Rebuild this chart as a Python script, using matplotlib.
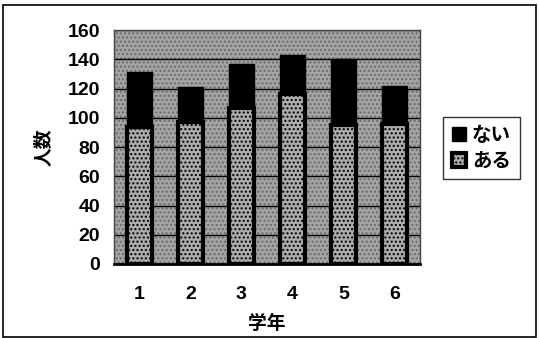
import matplotlib
matplotlib.use("Agg")
import matplotlib.pyplot as plt
from matplotlib.patches import Rectangle

grades = ["1", "2", "3", "4", "5", "6"]
aru = [94, 97, 107, 116, 95, 96]      # ある
nai = [37, 24, 30, 27, 45, 26]        # ない
y_ticks = [0, 20, 40, 60, 80, 100, 120, 140, 160]

num_font = ["Liberation Sans", "DejaVu Sans"]
jp_font = ["Noto Sans CJK JP", "DejaVu Sans"]

fig = plt.figure(figsize=(5.39, 3.38), dpi=100)
fig.patch.set_facecolor("white")
ax = fig.add_axes([0.2115, 0.219, 0.5675, 0.692])
ax.set_facecolor("#a4a4a4")
ax.patch.set_hatch("....")
ax.patch.set_edgecolor("#6a6a6a")

x = list(range(len(grades)))
ax.bar(x, aru, width=0.49, color="#acacac", edgecolor="black", linewidth=3,
       hatch="....", label="ある", zorder=3)
ax.bar(x, nai, width=0.49, bottom=aru, color="black", edgecolor="black",
       linewidth=1, label="ない", zorder=3)

ax.set_xlim(-0.5, len(grades) - 0.5)
ax.set_ylim(0, 160)
ax.set_yticks(y_ticks)
ax.set_yticklabels([str(v) for v in y_ticks], fontsize=14, fontweight="bold",
                   family=num_font)
ax.set_xticks(x)
ax.set_xticklabels(grades, fontsize=14, fontweight="bold", family=num_font)
ax.tick_params(axis="y", length=0, pad=10)
ax.tick_params(axis="x", length=0, pad=16)
ax.yaxis.grid(True, color="black", linewidth=1, zorder=1)
ax.set_axisbelow(True)
for s in ax.spines.values():
    s.set_color("#444444")
    s.set_linewidth(1)
ax.spines["bottom"].set_color("black")
ax.spines["bottom"].set_linewidth(2)

ax.set_ylabel("人数", fontsize=13.5, fontweight="bold", family=jp_font, labelpad=10)
ax.set_xlabel("学年", fontsize=13.5, fontweight="bold", family=jp_font, labelpad=8)

handles, labels = ax.get_legend_handles_labels()
leg = ax.legend(handles[::-1], labels[::-1], loc="upper left",
                bbox_to_anchor=(443 / 539, 1 - 117 / 338),
                bbox_transform=fig.transFigure,
                prop={"family": jp_font, "size": 14, "weight": "bold"},
                frameon=True, fancybox=False, edgecolor="black",
                handlelength=0.75, handleheight=0.75, handletextpad=0.3,
                borderpad=0.45, labelspacing=0.35, borderaxespad=0)
leg.get_frame().set_linewidth(1)

# outer frame of the chart area
fig.add_artist(Rectangle((3 / 539, 0.002), 1 - 6 / 539, 1 - 6 / 338,
                         transform=fig.transFigure, fill=False,
                         edgecolor="black", linewidth=1.2))

fig.savefig("out.png", dpi=100)
